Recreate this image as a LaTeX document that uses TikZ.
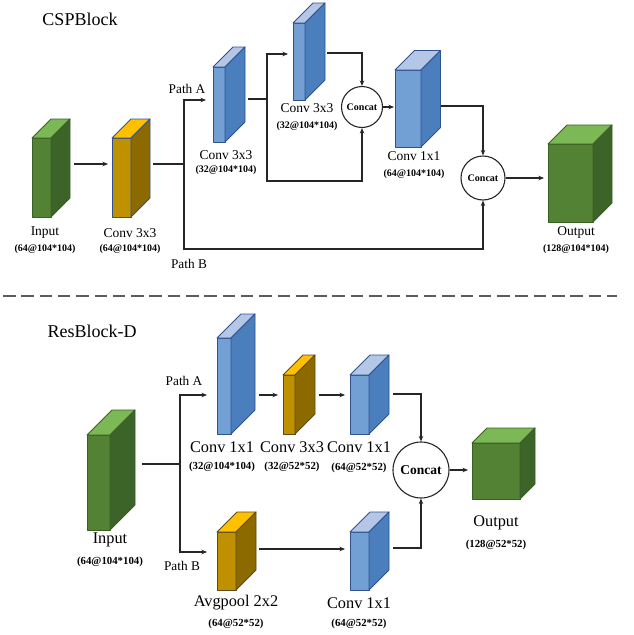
\documentclass[tikz,border=0pt]{standalone}
\usepackage{fontspec}
\setmainfont{Liberation Serif}
\usetikzlibrary{arrows.meta}
\definecolor{grf}{HTML}{548235}\definecolor{grs}{HTML}{3D6428}\definecolor{grt}{HTML}{7DB856}\definecolor{gre}{HTML}{3A5F24}
\definecolor{blf}{HTML}{72A0D4}\definecolor{bls}{HTML}{4A7EBD}\definecolor{blt}{HTML}{B4C7E7}\definecolor{ble}{HTML}{2F528F}
\definecolor{oaf}{HTML}{BF9000}\definecolor{oas}{HTML}{8C6A00}\definecolor{oat}{HTML}{FFC000}\definecolor{oae}{HTML}{2F528F}
\definecolor{obf}{HTML}{BF9000}\definecolor{obs}{HTML}{8C6A00}\definecolor{obt}{HTML}{FFC000}\definecolor{obe}{HTML}{5E4A18}
\definecolor{ln}{HTML}{262626}
\newcommand\cub[7]{%
  \draw[#7e, line width=0.9pt, line join=round, fill=#7f] (#2,#3) rectangle (#4,#5);
  \draw[#7e, line width=0.9pt, line join=round, fill=#7t] (#2,#3) -- (#2+#6,#3-#6) -- (#4+#6,#3-#6) -- (#4,#3) -- cycle;
  \draw[#7e, line width=0.9pt, line join=round, fill=#7s] (#4,#3) -- (#4+#6,#3-#6) -- (#4+#6,#5-#6) -- (#4,#5) -- cycle;
  \pgfmathsetmacro\cubw{#4+#6-#2}\pgfmathsetmacro\cubh{#5-#3+#6}%
  \node[inner sep=0pt, outer sep=0pt, minimum width=\cubw pt, minimum height=\cubh pt] (#1) at ({(#2+#4+#6)/2},{(#3-#6+#5)/2}) {};
}
\tikzset{
  ln/.style={draw=ln, line width=1.1pt},
  arr/.style={ln, -{Stealth[length=5.5pt,width=4.5pt]}},
  cat/.style={circle, draw=ln, line width=1.1pt, fill=white, inner sep=0pt, font=\bfseries},
  ttl/.style={font=\fontsize{18}{20}\selectfont},
  labA/.style={font=\fontsize{13.5}{15}\selectfont},
  subA/.style={font=\fontsize{10}{12}\selectfont\bfseries},
  labB/.style={font=\fontsize{16.3}{18}\selectfont},
  subB/.style={font=\fontsize{10.8}{12}\selectfont\bfseries},
  pth/.style={font=\fontsize{13.3}{15}\selectfont},
}
\begin{document}
\begin{tikzpicture}[x=1pt,y=-1pt]
\useasboundingbox (0,0) rectangle (633,635);
% ================= CSPBlock =================
\node[ttl] (t1) at (80,19) {CSPBlock};
\cub{in1}{32}{138}{51}{217}{19}{gr}
\cub{c1}{112}{138}{131}{217}{19}{oa}
\cub{pa1}{213}{67}{225}{142}{20}{bl}
\cub{pa2}{293}{23}{305}{100}{20}{bl}
\cub{c11}{395}{70}{421}{147}{19.5}{bl}
\cub{out1}{548}{144}{593}{222}{19}{gr}
\node[cat, minimum size=41pt, font=\fontsize{10}{12}\selectfont\bfseries] (cat1) at (362,107) {Concat};
\node[cat, minimum size=44pt, font=\fontsize{10}{12}\selectfont\bfseries] (cat2) at (483,178) {Concat};
% labels
\node[labA] (l1) at (45,233) {Input};
\node[subA] (s1) at (45,249) {(64@104*104)};
\node[labA] (l2) at (130,233) {Conv 3x3};
\node[subA] (s2) at (130,249) {(64@104*104)};
\node[labA] (l3) at (226,155) {Conv 3x3};
\node[subA] (s3) at (226,170) {(32@104*104)};
\node[labA] (l4) at (307,108) {Conv 3x3};
\node[subA] (s4) at (307,126) {(32@104*104)};
\node[labA] (l5) at (414,156) {Conv 1x1};
\node[subA] (s5) at (414,174) {(64@104*104)};
\node[labA] (l6) at (576,232) {Output};
\node[subA] (s6) at (576,249) {(128@104*104)};
\node[pth] (pA) at (187,89) {Path A};
\node[pth] (pB) at (189,264) {Path B};
% connectors
\coordinate (ya) at (0,164);
\coordinate (b1) at (184,164);
\coordinate (b1a) at (184,100);
\coordinate (b1b) at (184,249);
\draw[arr, shorten <=4pt, shorten >=4pt] (in1.east |- ya) -- (c1.west |- ya);
\draw[ln, shorten <=3pt] (c1.east |- b1) -- (b1);
\draw[arr, shorten >=7pt] (b1) -- (b1a) -- (pa1.west |- b1a);
\draw[arr] (b1) -- (b1b) -| (cat2.south);
\coordinate (b2) at (267,99);
\coordinate (b2t) at (267,54);
\coordinate (b2b) at (267,181);
\draw[ln, shorten <=3pt] (pa1.east |- b2) -- (b2);
\draw[arr, shorten >=5pt] (b2) -- (b2t) -- (pa2.west |- b2t);
\draw[arr] (b2) -- (b2b) -| (cat1.south);
\coordinate (k1) at (362,53);
\draw[arr, shorten <=2pt] (pa2.east |- k1) -- (k1) -- (cat1.north);
\draw[arr, shorten >=1pt] (cat1.east) -- (c11.west |- cat1.east);
\coordinate (k2) at (483,106);
\draw[arr] (c11.east |- k2) -- (k2) -- (cat2.north);
\draw[arr, shorten >=4pt] (cat2.east) -- (out1.west |- cat2.east);
% separator
\draw[draw=ln!75, line width=1.6pt, dash pattern=on 12.5pt off 5.8pt] (3,296) coordinate (d0) -- (617,296) coordinate (d1);
% ================= ResBlock-D =================
\node[ttl] (t2) at (92,331) {ResBlock-D};
\cub{rin}{87}{435}{110}{530}{25}{gr}
\cub{rc1}{217}{338}{231}{434}{24}{bl}
\cub{rc3}{283}{375}{295}{434}{20}{ob}
\cub{rc1b}{350}{375}{369}{434}{20}{bl}
\cub{rap}{217}{532}{236}{590}{20}{ob}
\cub{rc1c}{350}{532}{369}{590}{20}{bl}
\cub{rout}{472}{443}{520}{499}{15}{gr}
\node[cat, minimum size=56pt, font=\fontsize{13.5}{15}\selectfont\bfseries] (rcat) at (421,470) {Concat};
% labels
\node[labB] (rl1) at (110,540) {Input};
\node[subB] (rs1) at (110,562) {(64@104*104)};
\node[labB] (rl2) at (222,447) {Conv 1x1};
\node[subB] (rs2) at (222,467) {(32@104*104)};
\node[labB] (rl3) at (292,447) {Conv 3x3};
\node[subB] (rs3) at (292,467) {(32@52*52)};
\node[labB] (rl4) at (359,447) {Conv 1x1};
\node[subB] (rs4) at (359,468) {(64@52*52)};
\node[labB] (rl5) at (236,603) {Avgpool 2x2};
\node[subB] (rs5) at (236,624) {(64@52*52)};
\node[labB] (rl6) at (359,603) {Conv 1x1};
\node[subB] (rs6) at (359,624) {(64@52*52)};
\node[labB] (rl7) at (496,523) {Output};
\node[subB] (rs7) at (496,545) {(128@52*52)};
\node[pth] (rpA) at (184,381) {Path A};
\node[pth] (rpB) at (182,566) {Path B};
% connectors
\coordinate (r0) at (180,464);
\coordinate (ra) at (180,395);
\coordinate (rb) at (180,552);
\draw[ln, shorten <=7pt] (rin.east |- r0) -- (r0);
\draw[arr, shorten >=10pt] (r0) -- (ra) -- (rc1.west |- ra);
\draw[arr, shorten >=10pt] (r0) -- (rb) -- (rap.west |- rb);
\draw[arr, shorten <=4pt, shorten >=5pt] (rc1.east |- ra) -- (rc3.west |- ra);
\draw[arr, shorten <=4pt, shorten >=5pt] (rc3.east |- ra) -- (rc1b.west |- ra);
\coordinate (rk1) at (421,394);
\draw[arr, shorten <=4pt] (rc1b.east |- rk1) -- (rk1) -- (rcat.north);
\coordinate (rk2) at (0,549);
\draw[arr, shorten <=3pt, shorten >=5pt] (rap.east |- rk2) -- (rc1c.west |- rk2);
\coordinate (rk3) at (421,548);
\draw[arr, shorten <=4pt] (rc1c.east |- rk3) -- (rk3) -- (rcat.south);
\draw[arr, shorten >=4pt] (rcat.east) -- (rout.west |- rcat.east);
\end{tikzpicture}
\end{document}
